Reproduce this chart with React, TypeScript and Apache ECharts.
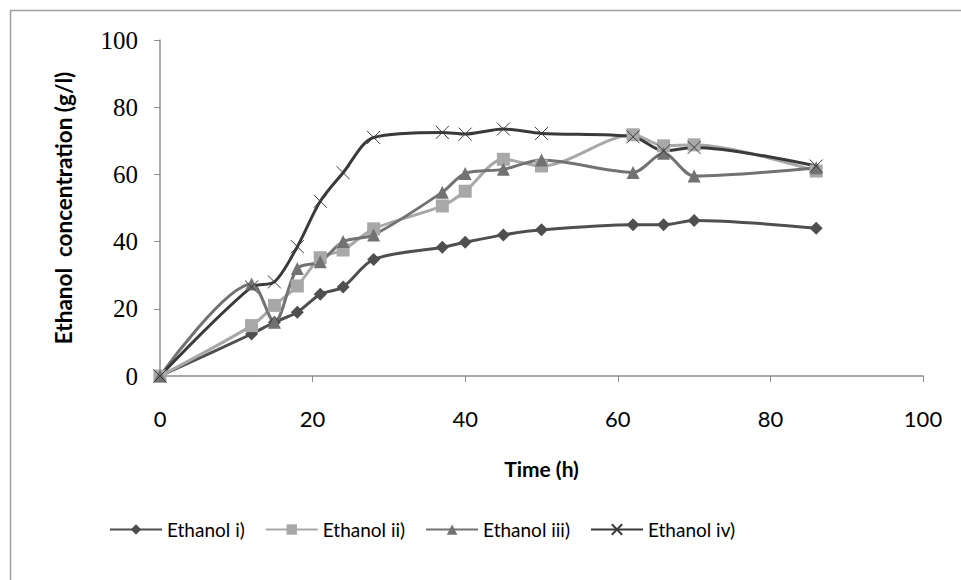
import React, { useEffect, useRef } from "react";
import * as echarts from "echarts";

const times = [0, 12, 15, 18, 21, 24, 28, 37, 40, 45, 50, 62, 66, 70, 86];
const ethanolI = [0, 12.5, 16, 19, 24.3, 26.5, 34.7, 38.3, 39.8, 42, 43.5, 45, 45, 46.3, 44];
const ethanolII = [0, 15, 21, 26.8, 35.2, 37.5, 43.8, 50.6, 55, 64.5, 62.5, 71.8, 68.5, 68.8, 61];
const ethanolIII = [0, 27.4, 16, 32, 34, 40, 42, 54.7, 60.3, 61.5, 64.3, 60.6, 66.3, 59.5, 62];
const ethanolIV = [0, 26.5, 28, 38.5, 52, 60.5, 71, 72.5, 72, 73.5, 72.2, 71.2, 67, 68, 62.5];
const seriesNames = ["Ethanol i)", "Ethanol ii)", "Ethanol iii)", "Ethanol iv)"];
const xTicks = [0, 20, 40, 60, 80, 100];
const yTicks = [0, 20, 40, 60, 80, 100];

const pairs = (vals: number[]) => times.map((t, i) => [t, vals[i]]);

export default function App() {
  const ref = useRef<HTMLDivElement>(null);
  useEffect(() => {
    document.body.style.margin = "0";
    const chart = echarts.init(ref.current!, null, { renderer: "svg" });
    const base = {
      type: "line",
      smooth: 0.3,
      symbolSize: 12,
      z: 2,
    };
    chart.setOption({
      animation: false,
      backgroundColor: "#ffffff",
      graphic: [
        {
          type: "rect",
          shape: { x: 10.5, y: 10.5, width: 970, height: 590 },
          style: { fill: "none", stroke: "#a0a0a0", lineWidth: 1.5 },
          silent: true,
        },
      ],
      grid: { left: 160, right: 38, top: 40, bottom: 204 },
      legend: {
        left: 104,
        top: 515,
        itemWidth: 52,
        itemHeight: 13,
        itemGap: 20,
        textStyle: { fontFamily: "Lato", fontSize: 19, color: "#000" },
        data: seriesNames,
      },
      xAxis: {
        type: "value",
        min: 0,
        max: 100,
        interval: 20,
        name: "Time (h)",
        nameLocation: "middle",
        nameGap: 82,
        nameTextStyle: { fontFamily: "Lato", fontWeight: "bold", fontSize: 21, color: "#000" },
        axisLine: { lineStyle: { color: "#8c8c8c", width: 1.5 } },
        axisTick: { show: true, length: 6, lineStyle: { color: "#8c8c8c" } },
        axisLabel: {
          margin: 31,
          fontFamily: "Lato",
          fontSize: 22,
          color: "#000",
          formatter: (v: number) => (xTicks.includes(v) ? String(v) : ""),
        },
        splitLine: { show: false },
      },
      yAxis: {
        type: "value",
        min: 0,
        max: 100,
        interval: 20,
        name: "Ethanol  concentration (g/l)",
        nameLocation: "middle",
        nameGap: 85,
        nameTextStyle: { fontFamily: "Lato", fontWeight: "bold", fontSize: 22.5, color: "#000" },
        axisLine: { show: true, lineStyle: { color: "#8c8c8c", width: 1.5 } },
        axisTick: { show: true, length: 6, lineStyle: { color: "#8c8c8c" } },
        axisLabel: {
          margin: 22,
          fontFamily: "Liberation Serif",
          fontSize: 25,
          color: "#000",
          formatter: (v: number) => (yTicks.includes(v) ? String(v) : ""),
        },
        splitLine: { show: false },
      },
      series: [
        {
          ...base,
          name: seriesNames[0],
          data: pairs(ethanolI),
          symbol: "diamond",
          symbolSize: 13,
          color: "#4f4f4f",
          lineStyle: { color: "#4f4f4f", width: 3 },
          itemStyle: { color: "#4f4f4f" },
        },
        {
          ...base,
          name: seriesNames[1],
          data: pairs(ethanolII),
          symbol: "rect",
          symbolSize: 13,
          color: "#a8a8a8",
          lineStyle: { color: "#a8a8a8", width: 3 },
          itemStyle: { color: "#a8a8a8" },
        },
        {
          ...base,
          name: seriesNames[2],
          data: pairs(ethanolIII),
          symbol: "triangle",
          symbolSize: 13,
          color: "#727272",
          lineStyle: { color: "#727272", width: 3 },
          itemStyle: { color: "#727272" },
        },
        {
          ...base,
          name: seriesNames[3],
          data: pairs(ethanolIV),
          symbol: "path://M0,0L10,10M10,0L0,10",
          symbolSize: 13,
          color: "#3a3a3a",
          lineStyle: { color: "#3a3a3a", width: 3 },
          itemStyle: { color: "none", borderColor: "#3a3a3a", borderWidth: 1 },
        },
      ],
    });
    return () => chart.dispose();
  }, []);
  return (
    <div
      ref={ref}
      style={{ position: "fixed", left: 0, top: 0, width: 961, height: 580 }}
    />
  );
}
